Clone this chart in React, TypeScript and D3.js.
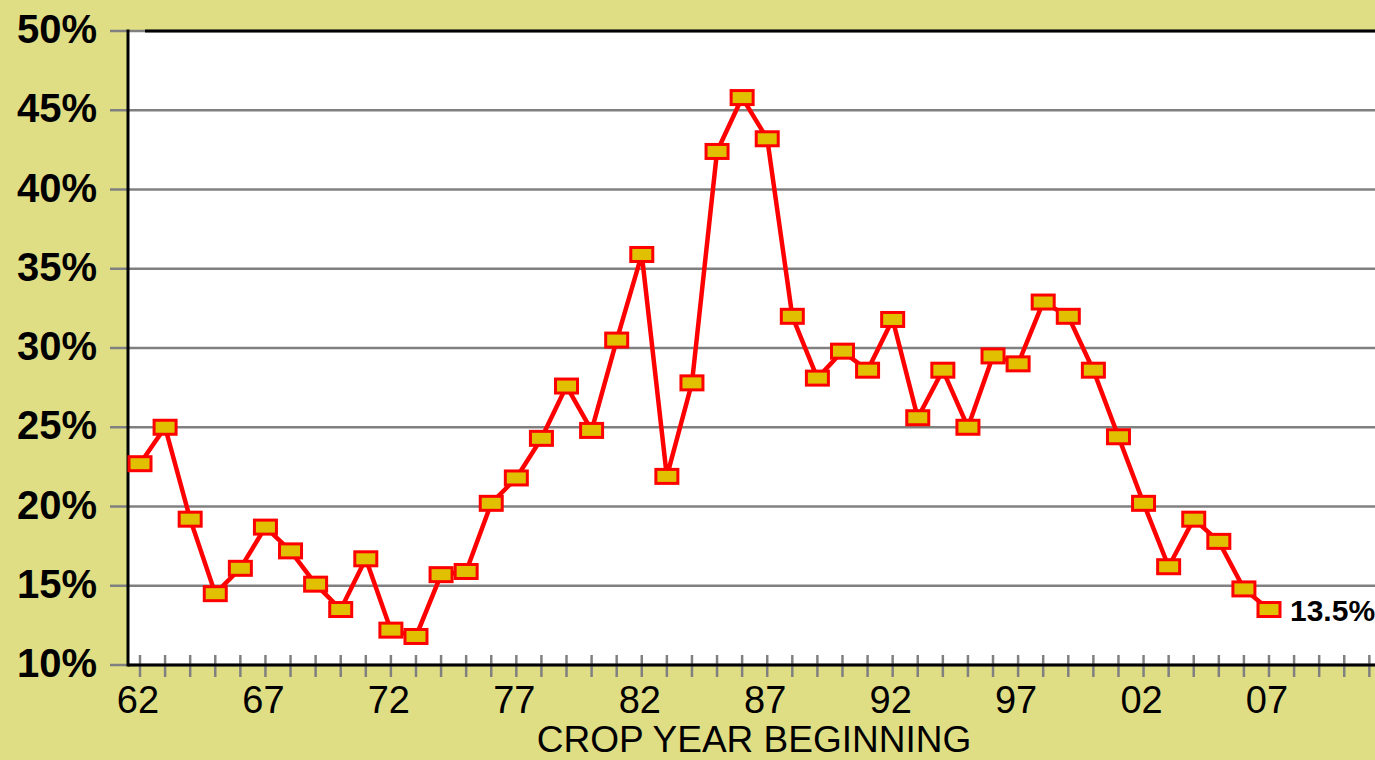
import React from "react";
import * as d3 from "d3";

// crop years (beginning) and share values in percent
const years = [
  1962, 1963, 1964, 1965, 1966, 1967, 1968, 1969, 1970, 1971, 1972, 1973, 1974, 1975, 1976,
  1977, 1978, 1979, 1980, 1981, 1982, 1983, 1984, 1985, 1986, 1987, 1988, 1989, 1990, 1991,
  1992, 1993, 1994, 1995, 1996, 1997, 1998, 1999, 2000, 2001, 2002, 2003, 2004, 2005, 2006, 2007,
];
const shares = [
  22.7, 25.0, 19.2, 14.5, 16.1, 18.7, 17.2, 15.1, 13.5, 16.7, 12.2, 11.8, 15.7, 15.9, 20.2,
  21.8, 24.3, 27.6, 24.8, 30.5, 35.9, 21.9, 27.8, 42.4, 45.8, 43.2, 32.0, 28.1, 29.8, 28.6,
  31.8, 25.6, 28.6, 25.0, 29.5, 29.0, 32.9, 32.0, 28.6, 24.4, 20.2, 16.2, 19.2, 17.8, 14.8, 13.5,
];
const yTicks = [10, 15, 20, 25, 30, 35, 40, 45, 50];
const xLabelYears = [1962, 1967, 1972, 1977, 1982, 1987, 1992, 1997, 2002, 2007];
const tickYears = d3.range(1962, 2013);
const lastLabel = "13.5%";
const xTitle = "CROP YEAR BEGINNING";

const W = 1375;
const H = 760;

export default function App() {
  const x = d3.scaleLinear().domain([1962, 2007]).range([140, 1269]);
  const y = d3.scaleLinear().domain([10, 50]).range([665, 31]);
  const plotLeft = 128;
  const plotRight = 1400;

  const data = years.map((yr, i) => ({ yr, v: shares[i] }));
  const line = d3
    .line<{ yr: number; v: number }>()
    .x((d) => x(d.yr))
    .y((d) => y(d.v));

  const last = data[data.length - 1];
  const font = "'Liberation Sans', Arial, sans-serif";

  return (
    <div style={{ position: "absolute", left: 0, top: 0 }}>
      <svg width={W} height={H} style={{ display: "block" }} fontFamily={font}>
        <rect x={0} y={0} width={W} height={H} fill="#E0DE84" />
        <rect x={plotLeft} y={y(50)} width={plotRight - plotLeft} height={y(10) - y(50)} fill="#fff" />

        {/* gridlines */}
        {yTicks.map((t) => (
          <line key={t} x1={110} x2={plotRight} y1={y(t)} y2={y(t)} stroke="#808080" strokeWidth={2.5} />
        ))}
        <line x1={145} x2={plotRight} y1={y(50)} y2={y(50)} stroke="#000" strokeWidth={3} />

        {/* y labels */}
        {yTicks.map((t) => (
          <text key={t} x={97} y={y(t) + 12} textAnchor="end" fontSize={40} fontWeight="bold" fill="#000">
            {t}%
          </text>
        ))}

        {/* x ticks */}
        {tickYears.map((yr) => (
          <line key={yr} x1={x(yr)} x2={x(yr)} y1={655} y2={677} stroke="#808080" strokeWidth={2.5} />
        ))}
        <line x1={plotLeft} x2={plotRight} y1={y(10)} y2={y(10)} stroke="#000" strokeWidth={3} />
        <line x1={plotLeft} x2={plotLeft} y1={y(50) - 1.5} y2={y(10) + 1.5} stroke="#000" strokeWidth={3} />

        {xLabelYears.map((yr) => (
          <text key={yr} x={x(yr) - 2} y={713} textAnchor="middle" fontSize={38} fill="#000">
            {String(yr % 100).padStart(2, "0")}
          </text>
        ))}
        <text x={754} y={752} textAnchor="middle" fontSize={37} fill="#000">
          {xTitle}
        </text>

        {/* series */}
        <path d={line(data) || ""} fill="none" stroke="#FF0000" strokeWidth={4.5} strokeLinejoin="miter" />
        {data.map((d) => (
          <rect
            key={d.yr}
            x={x(d.yr) - 11}
            y={y(d.v) - 7}
            width={22}
            height={14}
            fill="#E0C000"
            stroke="#FF0000"
            strokeWidth={3}
          />
        ))}
        <text x={x(last.yr) + 21} y={y(last.v) + 11} fontSize={30} fontWeight="bold" fill="#000">
          {lastLabel}
        </text>
      </svg>
    </div>
  );
}
